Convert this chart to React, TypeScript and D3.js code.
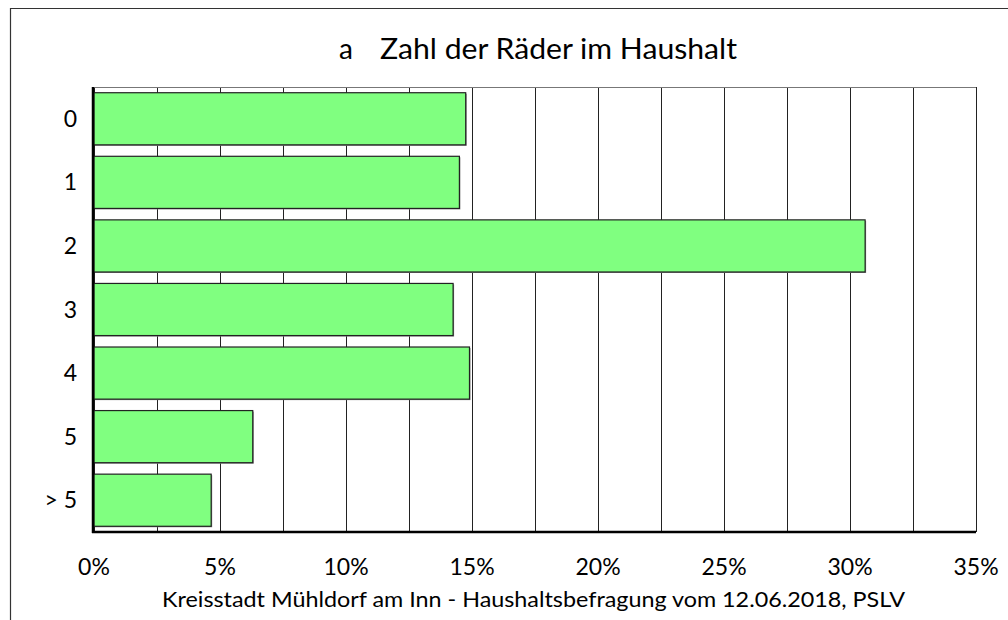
import React from "react";
import * as d3 from "d3";

const categories = ["0", "1", "2", "3", "4", "5", "> 5"];
const values = [14.75, 14.5, 30.6, 14.25, 14.9, 6.3, 4.65];
const ticks = [0, 5, 10, 15, 20, 25, 30, 35];
const gridTicks = d3.range(0, 35.01, 2.5);
const title = "Zahl der Räder im Haushalt";
const titlePrefix = "a";
const footer = "Kreisstadt Mühldorf am Inn - Haushaltsbefragung vom 12.06.2018, PSLV";

export default function App() {
  const W = 1008, H = 620;
  const left = 94, right = 976, top = 87, bottom = 532;
  const x = d3.scaleLinear().domain([0, 35]).range([left, right]);
  const y = d3.scaleBand().domain(categories).range([top, bottom]).paddingInner(0.18).paddingOuter(0.09);
  const font = "Lato, 'Open Sans', sans-serif";
  return (
    <svg width={W} height={H} style={{ position: "absolute", left: 0, top: 0 }}>
      <rect x={0} y={0} width={W} height={H} fill="#fff" />
      <line x1={10} y1={8.5} x2={W} y2={8.5} stroke="#333" strokeWidth={1.2} />
      <line x1={10.5} y1={8} x2={10.5} y2={H} stroke="#333" strokeWidth={1.2} />
      <text x={339} y={59} fontFamily={font} fontSize={28} fill="#000">{titlePrefix}</text>
      <text x={380} y={59} fontFamily={font} fontSize={28} fill="#000" textLength={357} lengthAdjust="spacingAndGlyphs">{title}</text>
      {gridTicks.map((t) => (
        <line key={t} x1={Math.round(x(t)) + 0.5} x2={Math.round(x(t)) + 0.5} y1={top} y2={bottom} stroke="#222" strokeWidth={1} />
      ))}
      <line x1={left} x2={right} y1={top + 0.5} y2={top + 0.5} stroke="#777" strokeWidth={1} />
      {categories.map((c, i) => {
        const y0 = y(c)!;
        const bh = y.bandwidth();
        return (
          <g key={c}>
            <rect x={x(0) + 1} y={y0 + 1} width={x(values[i]) - x(0)} height={bh} fill="#888" />
            <rect x={x(0)} y={y0} width={x(values[i]) - x(0)} height={bh} fill="#80ff80" stroke="#222" strokeWidth={1.2} />
            <text x={77} y={y0 + bh / 2 + 8} textAnchor="end" fontFamily={font} fontSize={23} fill="#000">{c}</text>
          </g>
        );
      })}
      <line x1={left - 1} x2={left - 1} y1={top} y2={bottom + 1} stroke="#000" strokeWidth={2.5} />
      <line x1={left - 2} x2={right} y1={bottom} y2={bottom} stroke="#000" strokeWidth={2.5} />
      {ticks.map((t) => (
        <text key={t} x={x(t)} y={575} textAnchor="middle" fontFamily={font} fontSize={23} fill="#000">{t}%</text>
      ))}
      <text x={(162 + 905) / 2} y={607} textAnchor="middle" fontFamily={font} fontSize={21} fill="#000" textLength={743} lengthAdjust="spacingAndGlyphs">{footer}</text>
    </svg>
  );
}
